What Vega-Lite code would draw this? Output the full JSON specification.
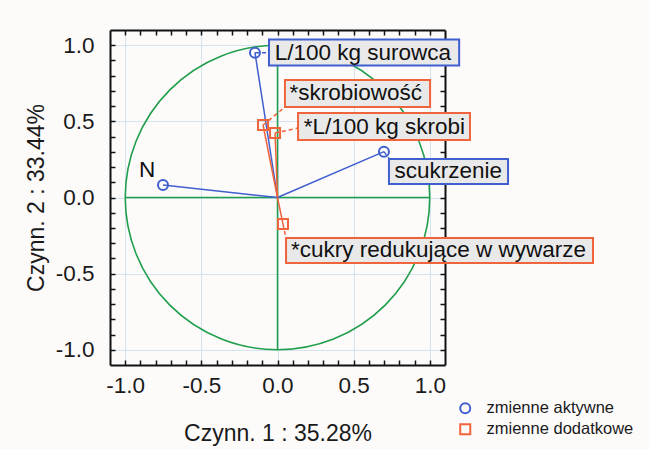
{
  "$schema": "https://vega.github.io/schema/vega-lite/v6.json",
  "width": 335,
  "height": 335,
  "autosize": {"type": "none"},
  "padding": {"left": 110, "top": 30, "right": 205, "bottom": 84},
  "background": "#fdfafa",
  "config": {
    "view": {"stroke": null},
    "font": "Liberation Sans",
    "axis": {"labelFont": "Liberation Sans", "titleFont": "Liberation Sans", "labelColor": "#1a1a1a", "titleColor": "#1a1a1a", "titleFontWeight": "normal"},
    "legend": {"labelFont": "Liberation Sans", "labelFontSize": 16.5, "labelColor": "#1a1a1a", "labelOffset": 13, "symbolStrokeWidth": 2, "symbolSize": 100, "rowPadding": 2, "padding": 0}
  },
  "datasets": {
    "vars": [
      {"name": "L/100 kg surowca", "type": "zmienne aktywne", "x": -0.148, "y": 0.951, "bx1": -0.056, "bx2": 1.193, "by1": 1.038, "by2": 0.867, "cx": -0.056, "cy": 0.951, "lx": -0.018, "ly": 0.952},
      {"name": "scukrzenie", "type": "zmienne aktywne", "x": 0.699, "y": 0.301, "bx1": 0.732, "bx2": 1.514, "by1": 0.253, "by2": 0.089, "cx": 0.735, "cy": 0.253, "lx": 0.768, "ly": 0.171},
      {"name": "N", "type": "zmienne aktywne", "x": -0.752, "y": 0.082, "bx1": null, "bx2": null, "by1": null, "by2": null, "cx": null, "cy": null, "lx": -0.91, "ly": 0.181},
      {"name": "*skrobiowość", "type": "zmienne dodatkowe", "x": -0.095, "y": 0.476, "bx1": 0.049, "bx2": 1.002, "by1": 0.772, "by2": 0.594, "cx": 0.049, "cy": 0.594, "lx": 0.078, "ly": 0.683},
      {"name": "*L/100 kg skrobi", "type": "zmienne dodatkowe", "x": -0.016, "y": 0.424, "bx1": 0.135, "bx2": 1.264, "by1": 0.555, "by2": 0.378, "cx": 0.135, "cy": 0.456, "lx": 0.172, "ly": 0.466},
      {"name": "*cukry redukujące w wywarze", "type": "zmienne dodatkowe", "x": 0.036, "y": -0.174, "bx1": 0.056, "bx2": 2.072, "by1": -0.266, "by2": -0.43, "cx": 0.056, "cy": -0.266, "lx": 0.088, "ly": -0.348}
    ],
    "axes": [
      {"x": -1, "y": 0, "x2": 1, "y2": 0},
      {"x": 0, "y": -1, "x2": 0, "y2": 1}
    ],
    "center": [{"x": 0, "y": 0}]
  },
  "resolve": {"axis": {"x": "independent", "y": "independent"}},
  "layer": [
    {
      "data": {"name": "axes"},
      "mark": {"type": "rule", "color": "#1f9e4c", "strokeWidth": 1.5},
      "encoding": {
        "x": {"field": "x", "type": "quantitative", "scale": {"domain": [-1.1, 1.1], "nice": false, "zero": false},
          "axis": {"orient": "bottom", "values": [-1, -0.5, 0, 0.5, 1], "labelExpr": "replace(format(datum.value, '.1f'), '\u2212', '-')", "ticks": false, "grid": true, "gridColor": "#d5e3ef", "gridWidth": 1, "domain": true, "domainColor": "#111111", "domainWidth": 2, "labelFontSize": 22.5, "labelPadding": 9, "title": "Czynn. 1 : 35.28%", "titleFontSize": 23, "titlePadding": 26}},
        "y": {"field": "y", "type": "quantitative", "scale": {"domain": [-1.1, 1.1], "nice": false, "zero": false},
          "axis": {"orient": "left", "values": [-1, -0.5, 0, 0.5, 1], "labelExpr": "replace(format(datum.value, '.1f'), '\u2212', '-')", "ticks": false, "grid": true, "gridColor": "#d5e3ef", "gridWidth": 1, "domain": true, "domainColor": "#111111", "domainWidth": 2, "labelFontSize": 22.5, "labelPadding": 16, "title": "Czynn. 2 : 33.44%", "titleFontSize": 23, "titlePadding": 7}},
        "x2": {"field": "x2"},
        "y2": {"field": "y2"}
      }
    },
    {
      "data": {"name": "center"},
      "mark": {"type": "point", "shape": "circle", "size": 92720, "filled": false, "color": "#1f9e4c", "strokeWidth": 1.6, "opacity": 1},
      "encoding": {
        "x": {"field": "x", "type": "quantitative", "scale": {"domain": [-1.1, 1.1], "nice": false, "zero": false},
          "axis": {"orient": "bottom", "values": [-1, -0.9, -0.8, -0.7, -0.6, -0.5, -0.4, -0.3, -0.2, -0.1, 0, 0.1, 0.2, 0.3, 0.4, 0.5, 0.6, 0.7, 0.8, 0.9, 1], "labels": false, "grid": false, "domain": false, "title": null, "ticks": true, "tickSize": -5, "tickColor": "#111111", "tickWidth": 1.5}},
        "y": {"field": "y", "type": "quantitative", "scale": {"domain": [-1.1, 1.1], "nice": false, "zero": false},
          "axis": {"orient": "left", "values": [-1, -0.9, -0.8, -0.7, -0.6, -0.5, -0.4, -0.3, -0.2, -0.1, 0, 0.1, 0.2, 0.3, 0.4, 0.5, 0.6, 0.7, 0.8, 0.9, 1], "labels": false, "grid": false, "domain": false, "title": null, "ticks": true, "tickSize": -5, "tickColor": "#111111", "tickWidth": 1.5}}
      }
    },
    {
      "data": {"name": "vars"},
      "transform": [{"filter": "datum.type == 'zmienne aktywne'"}],
      "mark": {"type": "rule", "strokeWidth": 1.5, "color": "#3f5fcf"},
      "encoding": {
        "x": {"field": "x", "type": "quantitative", "scale": {"domain": [-1.1, 1.1], "nice": false, "zero": false},
          "axis": {"orient": "top", "values": [-1, -0.9, -0.8, -0.7, -0.6, -0.5, -0.4, -0.3, -0.2, -0.1, 0, 0.1, 0.2, 0.3, 0.4, 0.5, 0.6, 0.7, 0.8, 0.9, 1], "labels": false, "grid": false, "domain": true, "domainColor": "#111111", "domainWidth": 2, "title": null, "ticks": true, "tickSize": -5, "tickColor": "#111111", "tickWidth": 1.5}},
        "y": {"field": "y", "type": "quantitative", "scale": {"domain": [-1.1, 1.1], "nice": false, "zero": false},
          "axis": {"orient": "right", "values": [-1, -0.9, -0.8, -0.7, -0.6, -0.5, -0.4, -0.3, -0.2, -0.1, 0, 0.1, 0.2, 0.3, 0.4, 0.5, 0.6, 0.7, 0.8, 0.9, 1], "labels": false, "grid": false, "domain": true, "domainColor": "#111111", "domainWidth": 2, "title": null, "ticks": true, "tickSize": -5, "tickColor": "#111111", "tickWidth": 1.5}},
        "x2": {"datum": 0},
        "y2": {"datum": 0}
      }
    },
    {
      "data": {"name": "vars"},
      "transform": [{"filter": "datum.type == 'zmienne dodatkowe'"}],
      "mark": {"type": "rule", "strokeWidth": 1.5, "color": "#f0643c"},
      "encoding": {
        "x": {"field": "x", "type": "quantitative", "axis": null},
        "y": {"field": "y", "type": "quantitative", "axis": null},
        "x2": {"datum": 0},
        "y2": {"datum": 0}
      }
    },
    {
      "data": {"name": "vars"},
      "transform": [{"filter": "isValid(datum.cx) && datum.type == 'zmienne aktywne'"}],
      "mark": {"type": "rule", "strokeWidth": 1.5, "strokeDash": [4, 3], "color": "#3f5fcf"},
      "encoding": {
        "x": {"field": "x", "type": "quantitative", "axis": null},
        "y": {"field": "y", "type": "quantitative", "axis": null},
        "x2": {"field": "cx"},
        "y2": {"field": "cy"}
      }
    },
    {
      "data": {"name": "vars"},
      "transform": [{"filter": "isValid(datum.cx) && datum.type == 'zmienne dodatkowe'"}],
      "mark": {"type": "rule", "strokeWidth": 1.5, "strokeDash": [4, 3], "color": "#f0643c"},
      "encoding": {
        "x": {"field": "x", "type": "quantitative", "axis": null},
        "y": {"field": "y", "type": "quantitative", "axis": null},
        "x2": {"field": "cx"},
        "y2": {"field": "cy"}
      }
    },
    {
      "data": {"name": "vars"},
      "transform": [{"filter": "isValid(datum.bx1) && datum.type == 'zmienne aktywne'"}],
      "mark": {"type": "rect", "fill": "#e9e9e9", "stroke": "#3f5fcf", "strokeWidth": 2},
      "encoding": {
        "x": {"field": "bx1", "type": "quantitative", "axis": null},
        "x2": {"field": "bx2"},
        "y": {"field": "by1", "type": "quantitative", "axis": null},
        "y2": {"field": "by2"}
      }
    },
    {
      "data": {"name": "vars"},
      "transform": [{"filter": "isValid(datum.bx1) && datum.type == 'zmienne dodatkowe'"}],
      "mark": {"type": "rect", "fill": "#e9e9e9", "stroke": "#f0643c", "strokeWidth": 2},
      "encoding": {
        "x": {"field": "bx1", "type": "quantitative", "axis": null},
        "x2": {"field": "bx2"},
        "y": {"field": "by1", "type": "quantitative", "axis": null},
        "y2": {"field": "by2"}
      }
    },
    {
      "data": {"name": "vars"},
      "mark": {"type": "text", "align": "left", "baseline": "middle", "fontSize": 22.5, "font": "Liberation Sans", "color": "#111111"},
      "encoding": {
        "x": {"field": "lx", "type": "quantitative", "axis": null},
        "y": {"field": "ly", "type": "quantitative", "axis": null},
        "text": {"field": "name"}
      }
    },
    {
      "data": {"name": "vars"},
      "mark": {"type": "point", "filled": false, "strokeWidth": 2, "size": 100, "opacity": 1},
      "encoding": {
        "x": {"field": "x", "type": "quantitative", "axis": null},
        "y": {"field": "y", "type": "quantitative", "axis": null},
        "shape": {"field": "type", "type": "nominal", "scale": {"domain": ["zmienne aktywne", "zmienne dodatkowe"], "range": ["circle", "square"]},
          "legend": {"title": null, "orient": "none", "legendX": 347, "legendY": 370, "padding": 0, "labelFontSize": 16.5, "labelOffset": 13, "symbolStrokeWidth": 2, "symbolSize": 100, "rowPadding": 2,
            "encode": {"labels": {"update": {"fontSize": {"value": 16.5}}}}}},
        "color": {"field": "type", "type": "nominal", "scale": {"domain": ["zmienne aktywne", "zmienne dodatkowe"], "range": ["#3f5fcf", "#f0643c"]},
          "legend": {"title": null, "orient": "none", "legendX": 347, "legendY": 370, "padding": 0, "labelFontSize": 16.5, "labelOffset": 13, "symbolStrokeWidth": 2, "symbolSize": 100, "rowPadding": 2,
            "encode": {"labels": {"update": {"fontSize": {"value": 16.5}}}}}}
      }
    }
  ]
}
